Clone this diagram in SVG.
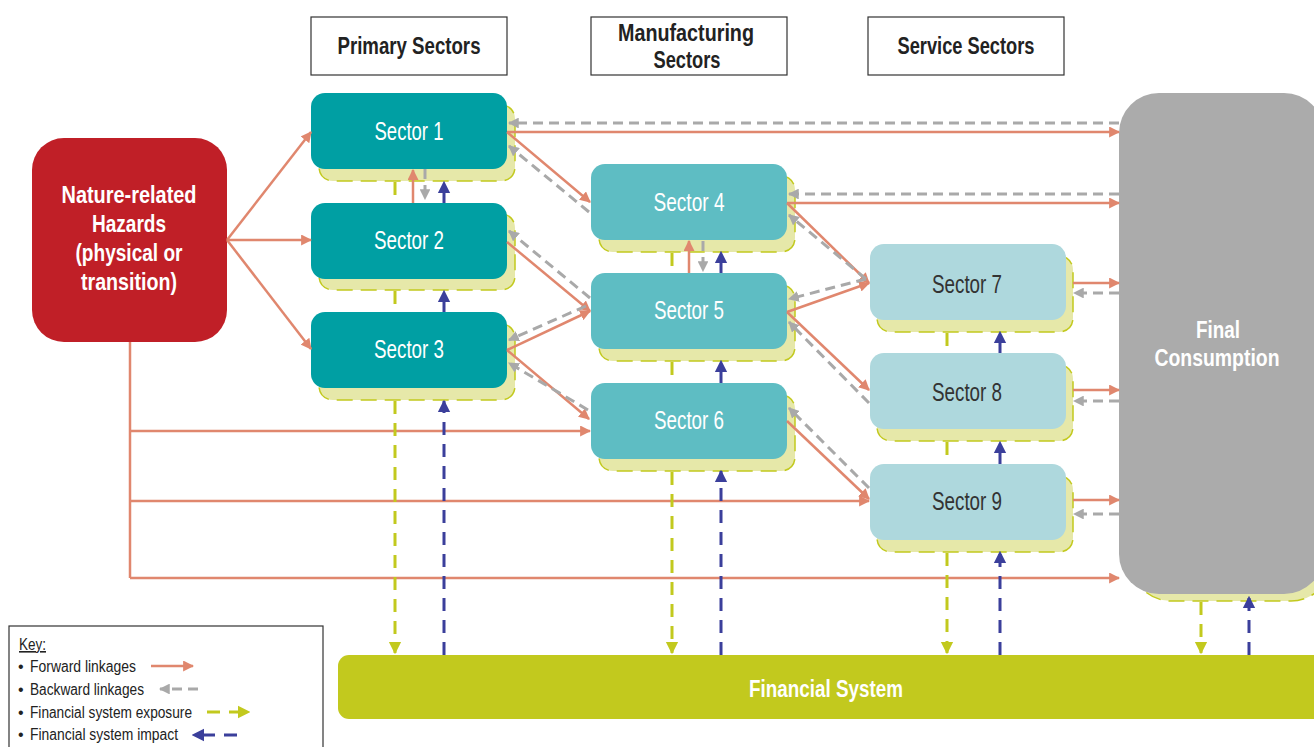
<svg xmlns="http://www.w3.org/2000/svg" width="1314" height="747" viewBox="0 0 1314 747">
<defs>
<style>
.hdr{fill:#fff;stroke:#333;stroke-width:1.2}
text{font-family:"Liberation Sans",Arial,sans-serif}
.ht{font-weight:bold;font-size:23px;fill:#222;text-anchor:middle}
.wt{font-weight:bold;font-size:24px;fill:#fff;text-anchor:middle}
.st{font-size:25px;fill:#fff;text-anchor:middle}
.std{font-size:25px;fill:#333;text-anchor:middle}
.kt{font-size:16px;fill:#222}
.sh{fill:#e6e8a9;stroke:#c2c91e;stroke-width:1.5;stroke-dasharray:16 8}
.fw{fill:none;stroke:#e0876e;stroke-width:2.5;marker-end:url(#af)}
.fwl{fill:none;stroke:#e0876e;stroke-width:2.5}
.bw{fill:none;stroke:#a9a9a9;stroke-width:3;stroke-dasharray:10 6;marker-end:url(#ab)}
.ex{fill:none;stroke:#c2c91e;stroke-width:3;stroke-dasharray:13 9}
.exa{fill:none;stroke:#c2c91e;stroke-width:3;stroke-dasharray:13 9;marker-end:url(#ae)}
.im{fill:none;stroke:#3b3f9b;stroke-width:3;stroke-dasharray:13 9;marker-end:url(#ai)}
</style>
<marker id="af" viewBox="0 0 10 10" refX="9" refY="5" markerWidth="4.4" markerHeight="4.4" orient="auto" markerUnits="strokeWidth"><path d="M0,0L10,5L0,10z" fill="#e0876e"/></marker>
<marker id="ab" viewBox="0 0 10 10" refX="9" refY="5" markerWidth="3.6" markerHeight="3.6" orient="auto" markerUnits="strokeWidth"><path d="M0,0L10,5L0,10z" fill="#a9a9a9"/></marker>
<marker id="ae" viewBox="0 0 10 10" refX="9" refY="5" markerWidth="4.2" markerHeight="4.6" orient="auto" markerUnits="strokeWidth"><path d="M0,0L10,5L0,10z" fill="#c2c91e"/></marker>
<marker id="ai" viewBox="0 0 10 10" refX="9" refY="5" markerWidth="4.2" markerHeight="4.6" orient="auto" markerUnits="strokeWidth"><path d="M0,0L10,5L0,10z" fill="#3b3f9b"/></marker>
</defs>
<rect width="1314" height="747" fill="#fff"/>

<g id="headers">
<g id="hdr-primary"><rect class="hdr" x="311" y="17" width="196" height="58"/><text class="ht" x="409" y="54" textLength="143" lengthAdjust="spacingAndGlyphs">Primary Sectors</text></g>
<g id="hdr-manufacturing"><rect class="hdr" x="591" y="17" width="196" height="58"/><text class="ht" x="686" y="41" textLength="136" lengthAdjust="spacingAndGlyphs">Manufacturing</text><text class="ht" x="687" y="68" textLength="67" lengthAdjust="spacingAndGlyphs">Sectors</text></g>
<g id="hdr-service"><rect class="hdr" x="868" y="17" width="196" height="58"/><text class="ht" x="966" y="54" textLength="137" lengthAdjust="spacingAndGlyphs">Service Sectors</text></g>
</g>

<g id="hazards"><rect x="32" y="138" width="195" height="204" rx="32" fill="#c01f27"/>
<text class="wt" x="129" y="203" textLength="135" lengthAdjust="spacingAndGlyphs">Nature-related</text><text class="wt" x="129" y="232" textLength="74" lengthAdjust="spacingAndGlyphs">Hazards</text><text class="wt" x="129" y="261" textLength="107" lengthAdjust="spacingAndGlyphs">(physical or</text><text class="wt" x="129" y="290" textLength="96" lengthAdjust="spacingAndGlyphs">transition)</text></g>

<g id="final-consumption"><rect class="sh" x="1131" y="105" width="200" height="496" rx="40"/><rect x="1119" y="93" width="205" height="501" rx="40" fill="#ababab"/>
<text class="wt" x="1218" y="338" textLength="44" lengthAdjust="spacingAndGlyphs">Final</text><text class="wt" x="1217" y="366" textLength="125" lengthAdjust="spacingAndGlyphs">Consumption</text></g>

<g id="financial-system"><rect x="338" y="655" width="990" height="64" rx="11" fill="#c2c91e"/><text class="wt" x="826" y="697" textLength="154" lengthAdjust="spacingAndGlyphs">Financial System</text></g>

<g id="sector1"><rect class="sh" x="319" y="105" width="196" height="76" rx="14"/><rect x="311" y="93" width="196" height="76" rx="14" fill="#009fa3"/><text class="st" x="409" y="140" textLength="69" lengthAdjust="spacingAndGlyphs">Sector 1</text></g>
<g id="sector2"><rect class="sh" x="319" y="214" width="196" height="76" rx="14"/><rect x="311" y="203" width="196" height="76" rx="14" fill="#009fa3"/><text class="st" x="409" y="249" textLength="70" lengthAdjust="spacingAndGlyphs">Sector 2</text></g>
<g id="sector3"><rect class="sh" x="319" y="324" width="196" height="76" rx="14"/><rect x="311" y="312" width="196" height="76" rx="14" fill="#009fa3"/><text class="st" x="409" y="358" textLength="70" lengthAdjust="spacingAndGlyphs">Sector 3</text></g>
<g id="sector4"><rect class="sh" x="599" y="176" width="196" height="76" rx="14"/><rect x="591" y="164" width="196" height="76" rx="14" fill="#5ebdc3"/><text class="st" x="689" y="211" textLength="71" lengthAdjust="spacingAndGlyphs">Sector 4</text></g>
<g id="sector5"><rect class="sh" x="599" y="285" width="196" height="76" rx="14"/><rect x="591" y="273" width="196" height="76" rx="14" fill="#5ebdc3"/><text class="st" x="689" y="319" textLength="70" lengthAdjust="spacingAndGlyphs">Sector 5</text></g>
<g id="sector6"><rect class="sh" x="599" y="395" width="196" height="76" rx="14"/><rect x="591" y="383" width="196" height="76" rx="14" fill="#5ebdc3"/><text class="st" x="689" y="429" textLength="70" lengthAdjust="spacingAndGlyphs">Sector 6</text></g>
<g id="sector7"><rect class="sh" x="877" y="256" width="196" height="76" rx="14"/><rect x="870" y="244" width="196" height="76" rx="14" fill="#aed8dd"/><text class="std" x="967" y="293" textLength="70" lengthAdjust="spacingAndGlyphs">Sector 7</text></g>
<g id="sector8"><rect class="sh" x="877" y="365" width="196" height="76" rx="14"/><rect x="870" y="353" width="196" height="76" rx="14" fill="#aed8dd"/><text class="std" x="967" y="401" textLength="70" lengthAdjust="spacingAndGlyphs">Sector 8</text></g>
<g id="sector9"><rect class="sh" x="877" y="476" width="196" height="76" rx="14"/><rect x="870" y="464" width="196" height="76" rx="14" fill="#aed8dd"/><text class="std" x="967" y="510" textLength="70" lengthAdjust="spacingAndGlyphs">Sector 9</text></g>

<g id="connectors">
<path class="fw" d="M227,240L311,132"/>
<path class="fw" d="M227,240L311,240"/>
<path class="fw" d="M227,240L311,349"/>
<path class="fwl" d="M130,342V578"/>
<path class="fw" d="M130,578H1119"/>
<path class="fw" d="M130,431H590"/>
<path class="fw" d="M130,501H869"/>
<path class="fw" d="M507,132H1119"/>
<path class="fw" d="M507,132L590,202"/>
<path class="fw" d="M507,242L590,311"/>
<path class="fw" d="M507,350L590,311"/>
<path class="fw" d="M507,350L589,419"/>
<path class="fw" d="M787,203H1119"/>
<path class="fw" d="M787,203L869,283"/>
<path class="fw" d="M787,312L869,283"/>
<path class="fw" d="M787,312L869,390"/>
<path class="fw" d="M787,421L869,499"/>
<path class="fw" d="M1073,283H1119"/>
<path class="fw" d="M1073,390H1119"/>
<path class="fw" d="M1073,500H1119"/>
<path class="fw" d="M413,203V170"/>
<path class="fw" d="M689,273V241"/>
<path class="bw" d="M1119,123H509"/>
<path class="bw" d="M1119,194H789"/>
<path class="bw" d="M589,212L509,146"/>
<path class="bw" d="M590,298L509,231"/>
<path class="bw" d="M586,306L509,340"/>
<path class="bw" d="M588,410L509,363"/>
<path class="bw" d="M866,279L789,215"/>
<path class="bw" d="M866,279L789,299"/>
<path class="bw" d="M869,403L789,322"/>
<path class="bw" d="M869,488L789,408"/>
<path class="bw" d="M1119,293H1074"/>
<path class="bw" d="M1119,401H1074"/>
<path class="bw" d="M1119,514H1074"/>
<path class="bw" d="M425,169V199"/>
<path class="bw" d="M703,241V271"/>
<path class="ex" d="M395,182V203"/>
<path class="ex" d="M395,291V312"/>
<path class="exa" d="M395,401V653"/>
<path class="ex" d="M672,253V273"/>
<path class="ex" d="M672,362V383"/>
<path class="exa" d="M672,472V653"/>
<path class="ex" d="M947,333V353"/>
<path class="ex" d="M947,442V464"/>
<path class="exa" d="M947,553V653"/>
<path class="exa" d="M1201,602V653"/>
<path class="im" d="M444,655V401"/>
<path class="im" d="M444,312V291"/>
<path class="im" d="M444,203V182"/>
<path class="im" d="M721,655V471"/>
<path class="im" d="M721,383V361"/>
<path class="im" d="M721,273V252"/>
<path class="im" d="M1000,655V552"/>
<path class="im" d="M1000,464V442"/>
<path class="im" d="M1000,353V332"/>
<path class="im" d="M1249,655V597"/>
</g>

<g id="key">
<rect x="9" y="626" width="314" height="140" fill="#fff" stroke="#333" stroke-width="1.2"/>
<text class="kt" x="19" y="650" textLength="27" lengthAdjust="spacingAndGlyphs" text-decoration="underline">Key:</text>
<text class="kt" x="18" y="672">•</text><text class="kt" x="30" y="672" textLength="106" lengthAdjust="spacingAndGlyphs">Forward linkages</text>
<text class="kt" x="18" y="695">•</text><text class="kt" x="30" y="695" textLength="114" lengthAdjust="spacingAndGlyphs">Backward linkages</text>
<text class="kt" x="18" y="718">•</text><text class="kt" x="30" y="718" textLength="162" lengthAdjust="spacingAndGlyphs">Financial system exposure</text>
<text class="kt" x="18" y="740">•</text><text class="kt" x="30" y="740" textLength="148" lengthAdjust="spacingAndGlyphs">Financial system impact</text>
<path class="fw" d="M151,666H193"/>
<path class="bw" d="M198,689H160" stroke-dasharray="8 5"/>
<path class="exa" d="M207,712H249" stroke-dasharray="12 10"/>
<path class="im" d="M237,735H193" stroke-dasharray="12 10"/>
</g>
</svg>
